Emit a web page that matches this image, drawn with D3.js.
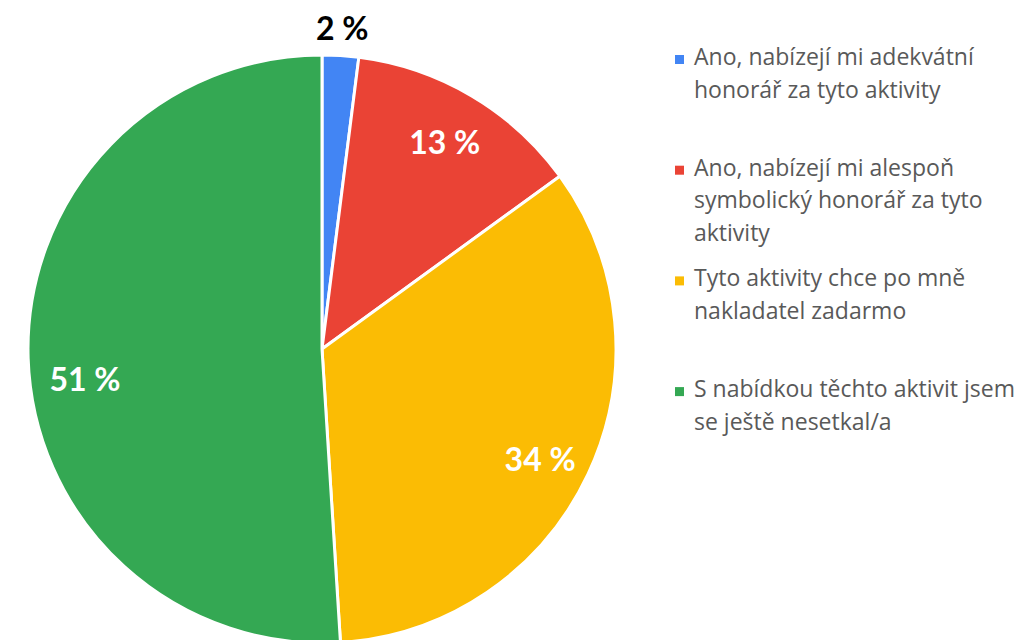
<!DOCTYPE html>
<html>
<head>
<meta charset="utf-8">
<script src="https://cdn.jsdelivr.net/npm/d3@7"></script>
<style>
  html, body { margin: 0; padding: 0; background: #fff; }
  svg { display: block; }
</style>
</head>
<body>
<svg id="chart" width="1021" height="640"></svg>
<script>
// Survey answers and their shares (percent)
const categories = [
  "Ano, nabízejí mi adekvátní honorář za tyto aktivity",
  "Ano, nabízejí mi alespoň symbolický honorář za tyto aktivity",
  "Tyto aktivity chce po mně nakladatel zadarmo",
  "S nabídkou těchto aktivit jsem se ještě nesetkal/a"
];
const values = [2, 13, 34, 51];
const legendLines = [
  ["Ano, nabízejí mi adekvátní", "honorář za tyto aktivity"],
  ["Ano, nabízejí mi alespoň", "symbolický honorář za tyto", "aktivity"],
  ["Tyto aktivity chce po mně", "nakladatel zadarmo"],
  ["S nabídkou těchto aktivit jsem", "se ještě nesetkal/a"]
];
const colors = ["#4285F4", "#EA4335", "#FBBC04", "#34A853"];

const svg = d3.select("#chart");
const cx = 322, cy = 349, R = 294;
const labelFont = "Lato, 'Open Sans', sans-serif";
const legendFont = "'Open Sans', Lato, sans-serif";

const data = categories.map((c, i) => ({ name: c, value: values[i], color: colors[i], lines: legendLines[i] }));

const pie = d3.pie().value(d => d.value).sort(null);
const arcs = pie(data);
const arc = d3.arc().innerRadius(0).outerRadius(R);
const labelArc = d3.arc().innerRadius(R * 0.82).outerRadius(R * 0.82);
const outerLabelArc = d3.arc().innerRadius(R + 28).outerRadius(R + 28);

const g = svg.append("g").attr("transform", `translate(${cx},${cy})`);

g.selectAll("path.slice")
  .data(arcs)
  .join("path")
  .attr("class", "slice")
  .attr("d", arc)
  .attr("fill", d => d.data.color)
  .attr("stroke", "#fff")
  .attr("stroke-width", 3)
  .attr("stroke-linejoin", "round");

// Value labels: small slices get their label outside in black
g.selectAll("text.val")
  .data(arcs)
  .join("text")
  .attr("class", "val")
  .attr("transform", d => {
    const small = d.data.value < 5;
    const p = (small ? outerLabelArc : labelArc).centroid(d);
    // the largest slice's label sits a little lower, below the horizontal
    const big = d.data.value > 50;
    const dx = big ? 4 : 0;
    const dy = big ? 22 : (d.data.value > 30 ? 7 : 0);
    return `translate(${p[0] + dx},${p[1] + dy})`;
  })
  .attr("text-anchor", "middle")
  .attr("dominant-baseline", "central")
  .attr("font-family", labelFont)
  .attr("font-weight", 700)
  .attr("font-size", 32)
  .attr("fill", d => d.data.value < 5 ? "#000" : "#fff")
  .text(d => `${d.data.value} %`);

// Legend
const legend = svg.append("g").attr("transform", "translate(675,0)");
const entry = legend.selectAll("g.entry")
  .data(data)
  .join("g")
  .attr("class", "entry")
  .attr("transform", (d, i) => `translate(0,${65 + i * 110.7})`);

entry.append("rect")
  .attr("x", 0).attr("y", -10)
  .attr("width", 9).attr("height", 9)
  .attr("fill", d => d.color);

entry.each(function(d) {
  const t = d3.select(this).append("text")
    .attr("font-family", legendFont)
    .attr("font-size", 23)
    .attr("fill", "#595959");
  d.lines.forEach((line, j) => {
    t.append("tspan").attr("x", 19).attr("y", j * 32.5).text(line);
  });
});
</script>
</body>
</html>
